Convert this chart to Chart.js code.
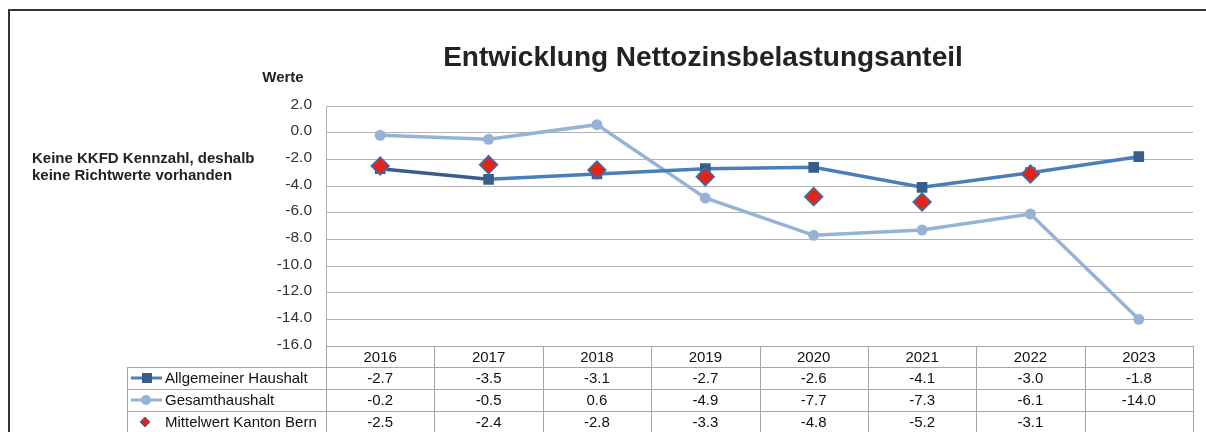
<!DOCTYPE html>
<html>
<head>
<meta charset="utf-8">
<script src="https://cdn.jsdelivr.net/npm/chart.js@4.4.1/dist/chart.umd.min.js"></script>
<style>
  html, body { margin: 0; padding: 0; background: #fff; }
  #wrap { width: 1206px; height: 432px; position: relative; }
</style>
</head>
<body>
<div id="wrap"><canvas id="chart" width="1206" height="432"></canvas></div>
<script>
// Daten
const years = ['2016', '2017', '2018', '2019', '2020', '2021', '2022', '2023'];
const allgemeinerHaushalt = [-2.7, -3.5, -3.1, -2.7, -2.6, -4.1, -3.0, -1.8];
const gesamthaushalt = [-0.2, -0.5, 0.6, -4.9, -7.7, -7.3, -6.1, -14.0];
const mittelwertBern = [-2.5, -2.4, -2.8, -3.3, -4.8, -5.2, -3.1, null];
const yTicks = { min: -16, max: 2, step: 2 };

const FONT = "'Liberation Sans', Arial, sans-serif";
const GRID = '#b3b3b3';

const rows = [
    { label: 'Allgemeiner Haushalt', values: allgemeinerHaushalt, kind: 'square' },
    { label: 'Gesamthaushalt', values: gesamthaushalt, kind: 'circle' },
    { label: 'Mittelwert Kanton Bern', values: mittelwertBern, kind: 'diamond' }
];

/* =========================
   Rahmen, Titel, Texte, Datentabelle
========================= */
const decorPlugin = {
    id: 'decor',
    afterDraw(chart) {
        const ctx = chart.ctx;
        const area = chart.chartArea;
        const x = chart.scales.x;
        const n = years.length;
        const colW = (area.right - area.left) / n;
        ctx.save();

        // Rahmen
        ctx.strokeStyle = '#333';
        ctx.lineWidth = 2;
        ctx.beginPath();
        ctx.moveTo(9, 432);
        ctx.lineTo(9, 10);
        ctx.lineTo(1206, 10);
        ctx.stroke();

        // Titel
        ctx.fillStyle = '#222';
        ctx.textAlign = 'center';
        ctx.textBaseline = 'alphabetic';
        ctx.font = 'bold 28px ' + FONT;
        ctx.fillText('Entwicklung Nettozinsbelastungsanteil', 703, 65.5);

        ctx.font = 'bold 15px ' + FONT;
        ctx.fillText('Werte', 283, 82);

        ctx.textAlign = 'left';
        ctx.fillText('Keine KKFD Kennzahl, deshalb', 32, 163);
        ctx.fillText('keine Richtwerte vorhanden', 32, 180);

        // Tabelle
        const top = area.bottom;
        const rowH = [21, 22, 22, 22];
        const lines = [top];
        rowH.forEach(h => lines.push(lines[lines.length - 1] + h));
        const legendLeft = 127;

        ctx.strokeStyle = '#a6a6a6';
        ctx.lineWidth = 1;
        ctx.beginPath();
        // horizontale Linien
        ctx.moveTo(area.left, lines[0] + 0.5);
        ctx.lineTo(area.right, lines[0] + 0.5);
        for (let i = 1; i < lines.length; i++) {
            ctx.moveTo(legendLeft, Math.round(lines[i]) + 0.5);
            ctx.lineTo(area.right, Math.round(lines[i]) + 0.5);
        }
        // vertikale Linien
        for (let i = 0; i <= n; i++) {
            const px = Math.round(area.left + i * colW) + 0.5;
            ctx.moveTo(px, lines[0]);
            ctx.lineTo(px, 432);
        }
        ctx.moveTo(legendLeft + 0.5, lines[1]);
        ctx.lineTo(legendLeft + 0.5, 432);
        ctx.stroke();

        ctx.font = '15px ' + FONT;
        ctx.fillStyle = '#111';
        ctx.textAlign = 'center';
        ctx.textBaseline = 'middle';
        years.forEach((y, i) => {
            ctx.fillText(y, x.getPixelForValue(i), (lines[0] + lines[1]) / 2 + 1);
        });

        rows.forEach((r, ri) => {
            const cy = (lines[ri + 1] + lines[ri + 2]) / 2 + 1;
            r.values.forEach((v, i) => {
                if (v === null) return;
                ctx.textAlign = 'center';
                ctx.fillText(v.toFixed(1), x.getPixelForValue(i), cy);
            });
            // Legendensymbol
            const my = cy - 1;
            if (r.kind === 'square') {
                ctx.strokeStyle = '#4a7ebb';
                ctx.lineWidth = 3;
                ctx.beginPath(); ctx.moveTo(131, my); ctx.lineTo(162, my); ctx.stroke();
                ctx.fillStyle = '#385d8a';
                ctx.fillRect(142, my - 5, 10, 10);
            } else if (r.kind === 'circle') {
                ctx.strokeStyle = '#95b3d7';
                ctx.lineWidth = 3;
                ctx.beginPath(); ctx.moveTo(131, my); ctx.lineTo(162, my); ctx.stroke();
                ctx.fillStyle = '#95b3d7';
                ctx.beginPath(); ctx.arc(146, my, 5, 0, Math.PI * 2); ctx.fill();
            } else {
                ctx.fillStyle = '#e2231a';
                ctx.strokeStyle = '#2e75b6';
                ctx.lineWidth = 1;
                ctx.beginPath();
                ctx.moveTo(145, my - 5); ctx.lineTo(150, my); ctx.lineTo(145, my + 5); ctx.lineTo(140, my);
                ctx.closePath(); ctx.fill(); ctx.stroke();
            }
            ctx.fillStyle = '#111';
            ctx.textAlign = 'left';
            ctx.fillText(r.label, 165, cy);
        });

        ctx.restore();
    }
};

/* =========================
   Chart
========================= */
new Chart(document.getElementById('chart').getContext('2d'), {
    type: 'line',
    data: {
        labels: years,
        datasets: [
            {
                label: 'Mittelwert Kanton Bern',
                data: mittelwertBern,
                showLine: false,
                pointStyle: 'rectRot',
                pointRadius: 9,
                pointBackgroundColor: '#e2231a',
                pointBorderColor: '#2e75b6',
                pointBorderWidth: 1.5,
                order: 0
            },
            {
                label: 'Allgemeiner Haushalt',
                data: allgemeinerHaushalt,
                borderColor: '#4a7ebb',
                borderWidth: 3.5,
                segment: {
                    borderColor: c => c.p0DataIndex === 0 ? '#385d8a' : '#4a7ebb'
                },
                pointStyle: 'rect',
                pointRadius: 7.5,
                pointBackgroundColor: '#385d8a',
                pointBorderColor: '#385d8a',
                pointBorderWidth: 0,
                tension: 0,
                order: 1
            },
            {
                label: 'Gesamthaushalt',
                data: gesamthaushalt,
                borderColor: '#95b3d7',
                borderWidth: 3.5,
                pointStyle: 'circle',
                pointRadius: 5.5,
                pointBackgroundColor: '#95b3d7',
                pointBorderColor: '#95b3d7',
                pointBorderWidth: 0,
                tension: 0,
                order: 2
            }
        ]
    },
    options: {
        responsive: false,
        animation: false,
        events: [],
        layout: { padding: { left: 0, top: 106, right: 13, bottom: 86 } },
        plugins: {
            legend: { display: false },
            title: { display: false },
            tooltip: { enabled: false }
        },
        scales: {
            x: {
                display: false,
                offset: true
            },
            y: {
                min: yTicks.min,
                max: yTicks.max,
                afterFit: s => { s.width = 326; },
                ticks: {
                    stepSize: yTicks.step,
                    padding: 14,
                    labelOffset: -1.5,
                    color: '#333',
                    font: { family: FONT, size: 15.5 },
                    callback: v => v.toFixed(1)
                },
                grid: { color: GRID, lineWidth: 1, drawTicks: false },
                border: { color: GRID }
            }
        }
    },
    plugins: [decorPlugin]
});
</script>
</body>
</html>
